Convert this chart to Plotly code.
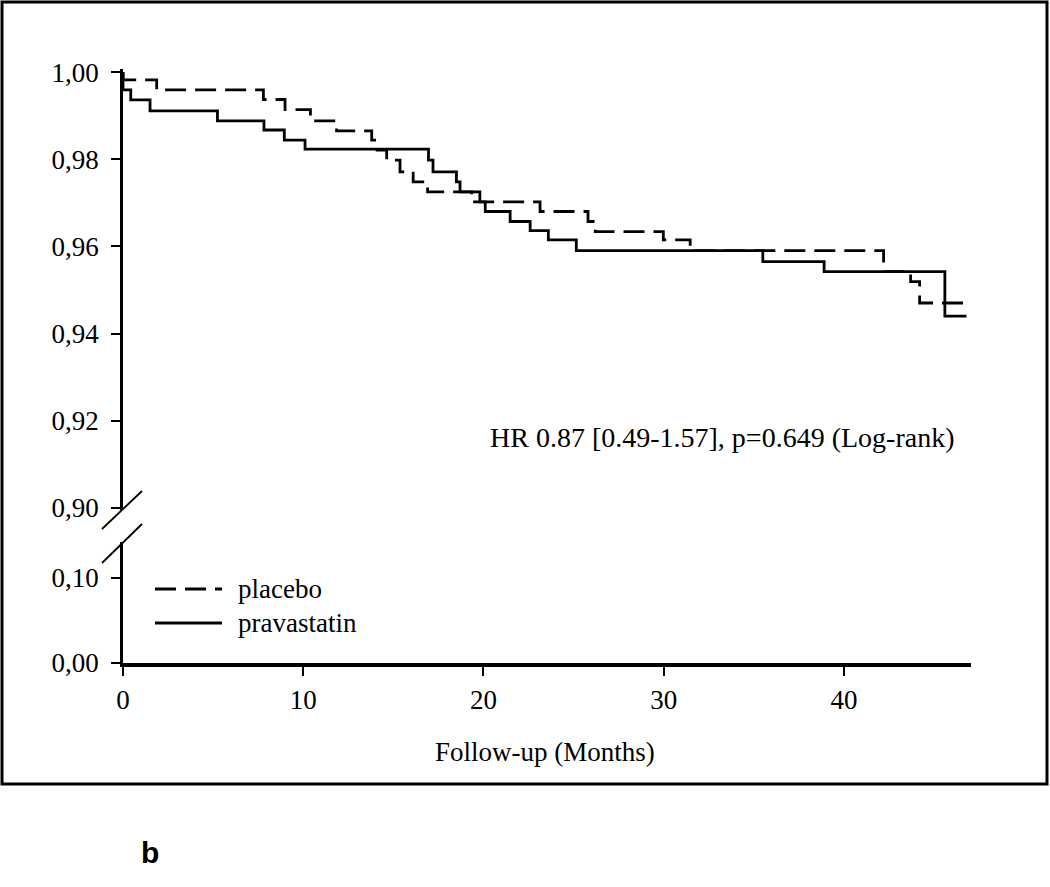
import plotly.graph_objects as go

# ---- data ----
placebo_t = [0, 0, 1.87, 7.79, 8.99, 10.4, 11.85, 13.8, 14.1, 14.63, 15.37, 16.1, 16.9,
             19.35, 23.14, 25.8, 26.2, 29.98, 31.47, 42.2, 43.7, 44.2, 47.0]
placebo_s = [1.0, 0.9982, 0.9959, 0.9937, 0.9914, 0.9888, 0.9865, 0.9844, 0.9821, 0.9798,
             0.9771, 0.9748, 0.9725, 0.9702, 0.9680, 0.9657, 0.9634, 0.9615, 0.9590,
             0.9542, 0.9519, 0.9470, 0.9470]

prava_t = [0, 0, 0.43, 1.5, 5.24, 7.82, 8.95, 10.1, 16.95, 17.2, 18.5, 18.7, 19.8, 20.1,
           21.48, 22.59, 23.6, 25.15, 35.5, 38.9, 45.6, 46.8]
prava_s = [1.0, 0.9959, 0.9936, 0.9911, 0.9888, 0.9867, 0.9844, 0.9823, 0.9798, 0.9771,
           0.9748, 0.9725, 0.9702, 0.9680, 0.9657, 0.9636, 0.9615, 0.9590, 0.9565,
           0.9542, 0.9440, 0.9440]

x_ticks = [0, 10, 20, 30, 40]
upper_ticks = [0.90, 0.92, 0.94, 0.96, 0.98, 1.00]
upper_labels = ["0,90", "0,92", "0,94", "0,96", "0,98", "1,00"]
lower_ticks = [0.00, 0.10]
lower_labels = ["0,00", "0,10"]
series_names = ["placebo", "pravastatin"]
hr_text = "HR 0.87 [0.49-1.57], p=0.649 (Log-rank)"
x_title = "Follow-up (Months)"
panel_label = "b"

# ---- layout geometry (pixels) ----
W, H = 1050, 887
L, R = 123, 971          # plot area left/right
T, B = 69, 663           # plot area top/bottom
PW, PH = R - L, B - T

def fx(px):
    return (px - L) / PW

def fy(py):
    return (B - py) / PH

FONT = "Liberation Serif"
FS = 27
BLACK = "#000000"

fig = go.Figure()
fig.add_trace(go.Scatter(x=placebo_t, y=placebo_s, mode="lines", line_shape="hv",
                         line=dict(color=BLACK, width=2.8, dash="21px,9px"),
                         name=series_names[0], showlegend=False, cliponaxis=False))
fig.add_trace(go.Scatter(x=prava_t, y=prava_s, mode="lines", line_shape="hv",
                         line=dict(color=BLACK, width=2.8),
                         name=series_names[1], showlegend=False, cliponaxis=False))
fig.add_trace(go.Scatter(x=[None], y=[None], yaxis="y2", mode="lines",
                         showlegend=False, hoverinfo="skip"))

upper_dom = [fy(510), 1.0]
lower_dom = [0.0, fy(542)]

fig.update_layout(
    width=W, height=H,
    margin=dict(l=L, r=W - R, t=T, b=H - B, pad=0),
    paper_bgcolor="white", plot_bgcolor="white",
    font=dict(family=FONT, color=BLACK, size=FS),
    showlegend=False,
    xaxis=dict(range=[0, 47.05], anchor="y2", tickvals=x_ticks,
               ticks="outside", ticklen=9, tickwidth=2, tickcolor=BLACK,
               showline=True, linewidth=3.5, linecolor=BLACK,
               showgrid=False, zeroline=False, ticklabelstandoff=1,
               tickfont=dict(family=FONT, size=FS)),
    yaxis=dict(domain=upper_dom, range=[0.8995, 1.0007], anchor="x",
               tickvals=upper_ticks, ticktext=upper_labels,
               ticks="outside", ticklen=9, tickwidth=2, tickcolor=BLACK,
               showline=True, linewidth=2.8, linecolor=BLACK,
               showgrid=False, zeroline=False, ticklabelstandoff=7,
               tickfont=dict(family=FONT, size=FS)),
    yaxis2=dict(domain=lower_dom, range=[0, 0.1424], anchor="x",
                tickvals=lower_ticks, ticktext=lower_labels,
                ticks="outside", ticklen=9, tickwidth=2, tickcolor=BLACK,
                showline=True, linewidth=2.8, linecolor=BLACK,
                showgrid=False, zeroline=False, ticklabelstandoff=7,
                tickfont=dict(family=FONT, size=FS)),
)

shapes = []
# outer frame
shapes.append(dict(type="rect", xref="paper", yref="paper",
                   x0=fx(2), x1=fx(1047), y0=fy(784), y1=fy(2),
                   line=dict(color=BLACK, width=3), fillcolor="rgba(0,0,0,0)", layer="above"))
# axis break marks
shapes.append(dict(type="line", xref="paper", yref="paper",
                   x0=fx(102), y0=fy(529), x1=fx(142), y1=fy(491),
                   line=dict(color=BLACK, width=1.8)))
shapes.append(dict(type="line", xref="paper", yref="paper",
                   x0=fx(102), y0=fy(563), x1=fx(142), y1=fy(524),
                   line=dict(color=BLACK, width=1.8)))
# legend samples
shapes.append(dict(type="line", xref="paper", yref="paper",
                   x0=fx(155), y0=fy(589), x1=fx(222), y1=fy(589),
                   line=dict(color=BLACK, width=2.8, dash="21px,9px")))
shapes.append(dict(type="line", xref="paper", yref="paper",
                   x0=fx(155), y0=fy(623), x1=fx(222), y1=fy(623),
                   line=dict(color=BLACK, width=2.8)))
fig.update_layout(shapes=shapes)

annotations = [
    dict(text=series_names[0], xref="paper", yref="paper", x=fx(236), y=fy(589),
         xanchor="left", yanchor="middle", showarrow=False, font=dict(family=FONT, size=FS)),
    dict(text=series_names[1], xref="paper", yref="paper", x=fx(236), y=fy(623),
         xanchor="left", yanchor="middle", showarrow=False, font=dict(family=FONT, size=FS)),
    dict(text=hr_text, xref="paper", yref="paper", x=fx(957), y=fy(437),
         xanchor="right", yanchor="middle", showarrow=False, font=dict(family=FONT, size=28)),
    dict(text=x_title, xref="paper", yref="paper", x=fx(545), y=fy(752),
         xanchor="center", yanchor="middle", showarrow=False, font=dict(family=FONT, size=FS)),
    dict(text="<b>" + panel_label + "</b>", xref="paper", yref="paper", x=fx(150), y=fy(852),
         xanchor="center", yanchor="middle", showarrow=False,
         font=dict(family="Liberation Sans", size=30)),
]
fig.update_layout(annotations=annotations)

fig.write_html("out.html", config={"displayModeBar": False},
               post_script="document.body.style.margin='0px';")
